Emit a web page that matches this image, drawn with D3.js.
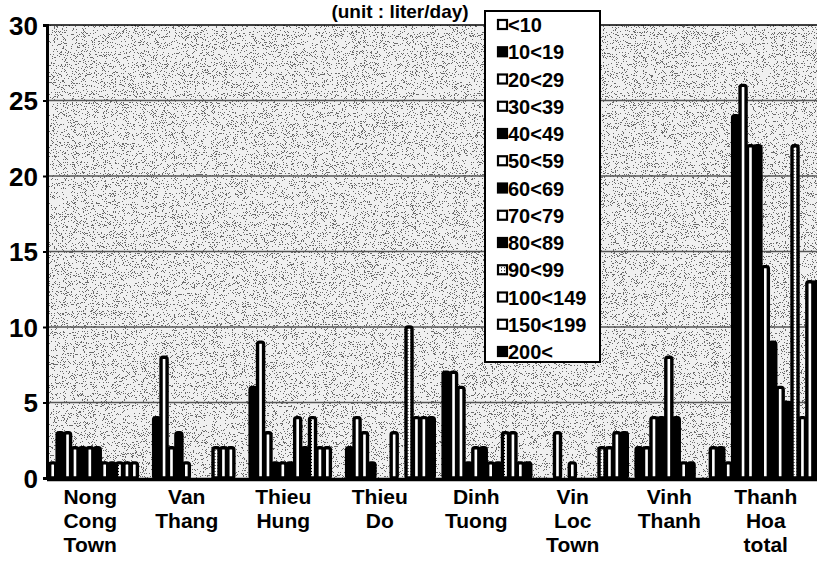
<!DOCTYPE html>
<html><head><meta charset="utf-8">
<script src="https://cdn.jsdelivr.net/npm/d3@7"></script>
<style>html,body{margin:0;padding:0;background:#fff;}svg{display:block;}</style>
</head><body>
<script>
// ---- data ----
const categories = ["Nong Cong Town","Van Thang","Thieu Hung","Thieu Do","Dinh Tuong","Vin Loc Town","Vinh Thanh","Thanh Hoa total"];
const categoryLines = [["Nong","Cong","Town"],["Van","Thang"],["Thieu","Hung"],["Thieu","Do"],["Dinh","Tuong"],["Vin","Loc","Town"],["Vinh","Thanh"],["Thanh","Hoa","total"]];
const seriesNames = ["<10","10<19","20<29","30<39","40<49","50<59","60<69","70<79","80<89","90<99","100<149","150<199","200<"];
const nongCong   = [1,3,3,2,2,2,2,1,1,1,1,1,0];
const vanThang   = [0,4,8,2,3,1,0,0,0,2,2,2,0];
const thieuHung  = [0,6,9,3,1,1,1,4,2,4,2,2,0];
const thieuDo    = [0,2,4,3,1,0,0,3,0,10,4,4,4];
const dinhTuong  = [0,7,7,6,1,2,2,1,1,3,3,1,1];
const vinLoc     = [0,0,0,3,0,1,0,0,0,2,2,3,3];
const vinhThanh  = [0,2,2,4,4,8,4,1,1,0,0,2,2];
const thanhHoa   = [1,24,26,22,22,14,9,6,5,22,4,13,13];
const yTicks = [0,5,10,15,20,25,30];
const title = "(unit : liter/day)";

const values = [nongCong,vanThang,thieuHung,thieuDo,dinhTuong,vinLoc,vinhThanh,thanhHoa];
// style per series (not data)
const seriesFill = ["#fff","#000","#fff","#fff","#000","#fff","#000","#fff","#000","url(#hatch)","#fff","#fff","#000"];

const W = 817, H = 581;
const FONT = "Liberation Sans, Arial, sans-serif";
const svg = d3.select("body").append("svg").attr("width", W).attr("height", H);
const defs = svg.append("defs");
// speckled background texture (decoration only)
const f = defs.append("filter").attr("id","speckle").attr("x",0).attr("y",0).attr("width","100%").attr("height","100%");
f.append("feTurbulence").attr("type","fractalNoise").attr("baseFrequency",1.1).attr("numOctaves",2).attr("seed",7).attr("result","n");
f.append("feColorMatrix").attr("in","n").attr("type","matrix")
  .attr("values","0 0 0 0 0  0 0 0 0 0  0 0 0 0 0  -14 0 0 0 6.1").attr("result","a");
f.append("feComponentTransfer").attr("in","a").append("feFuncA").attr("type","discrete").attr("tableValues","0 0 0 0 0 0 0 0 0 0 1");
const hatch = defs.append("pattern").attr("id","hatch").attr("width",3).attr("height",3).attr("patternUnits","userSpaceOnUse");
hatch.append("rect").attr("width",3).attr("height",3).attr("fill","#fff");
hatch.append("rect").attr("width",1).attr("height",1).attr("fill","#000");

const x0 = d3.scaleBand().domain(categories).range([49, 821]).padding(0);
const x1 = d3.scaleBand().domain(seriesNames).range([0, x0.bandwidth()]).padding(0);
const y = d3.scaleLinear().domain([0, 30]).range([478, 25]);

const plotL = 47, plotR = W + 5;
// plot background
svg.append("rect").attr("x", plotL).attr("y", y(30)).attr("width", plotR - plotL).attr("height", y(0) - y(30)).attr("fill", "#f0f0f0");
svg.append("rect").attr("x", plotL).attr("y", y(30)).attr("width", plotR - plotL).attr("height", y(0) - y(30)).attr("fill", "#000").attr("filter","url(#speckle)").attr("opacity",0.55);

// gridlines
svg.append("g").selectAll("line").data(yTicks.filter(t => t > 0 && t < 30)).join("line")
  .attr("x1", plotL).attr("x2", plotR).attr("y1", d => y(d)).attr("y2", d => y(d))
  .attr("stroke", "#555").attr("stroke-width", 1.3);
svg.append("line").attr("x1", plotL).attr("x2", plotR).attr("y1", y(30)).attr("y2", y(30)).attr("stroke","#000").attr("stroke-width",1.5);

// bars
const groups = svg.append("g").selectAll("g").data(categories).join("g")
  .attr("transform", d => `translate(${x0(d)},0)`);
groups.selectAll("rect").data((d, i) => values[i].map((v, j) => ({ s: seriesNames[j], v, j })))
  .join("rect")
  .attr("x", d => x1(d.s) + 0.7).attr("width", x1.bandwidth() - 1.4)
  .attr("y", d => y(d.v)).attr("height", d => Math.max(0, y(0) - y(d.v)))
  .attr("fill", d => seriesFill[d.j]).attr("stroke", "#000").attr("stroke-width", 3.4)
  .attr("rx", 2);

// baseline & y axis
svg.append("line").attr("x1", plotL).attr("x2", plotR).attr("y1", y(0)+1.5).attr("y2", y(0)+1.5).attr("stroke","#000").attr("stroke-width",3.5);
const yAxis = d3.axisLeft(y).tickValues(yTicks).tickSize(4).tickFormat(d3.format("d"));
const ya = svg.append("g").attr("transform", `translate(${plotL},0)`).call(yAxis);
ya.select(".domain").attr("stroke-width", 3);
ya.selectAll(".tick line").attr("stroke-width", 2);
ya.selectAll(".tick text").attr("font-family", FONT).attr("font-weight","bold")
  .attr("font-size", 26).attr("fill","#000").attr("x", -9).attr("dy","0.36em");

// category labels
const lab = svg.append("g").selectAll("text").data(categories).join("text")
  .attr("x", d => x0(d) + x0.bandwidth() / 2 - 7)
  .attr("y", 504).attr("text-anchor","middle")
  .attr("font-family", FONT).attr("font-weight","bold").attr("font-size",21).attr("fill","#000");
lab.selectAll("tspan").data((d, i) => categoryLines[i]).join("tspan")
  .attr("x", function(){ return d3.select(this.parentNode).attr("x"); })
  .attr("dy", (d, i) => i === 0 ? 0 : 24).text(d => d);

// title
svg.append("text").attr("x", 400).attr("y", 18).attr("text-anchor","middle")
  .attr("font-family", FONT).attr("font-weight","bold").attr("font-size",19).text(title);

// legend
const lg = svg.append("g");
lg.append("rect").attr("x", 485).attr("y", 11).attr("width", 115).attr("height", 351)
  .attr("fill","#fff").attr("stroke","#000").attr("stroke-width",2);
const ly = d3.scalePoint().domain(seriesNames).range([25, 352]);
const items = lg.selectAll("g").data(seriesNames).join("g").attr("transform", d => `translate(0,${ly(d)})`);
items.append("rect").attr("x", 498).attr("y", -5).attr("width", 9).attr("height", 9)
  .attr("fill", (d, i) => seriesFill[i]).attr("stroke","#000").attr("stroke-width",2.2);
items.append("text").attr("x", 508).attr("y", 0).attr("dy","0.36em")
  .attr("font-family", FONT).attr("font-weight","bold").attr("font-size",20).text(d => d);
</script>
</body></html>
